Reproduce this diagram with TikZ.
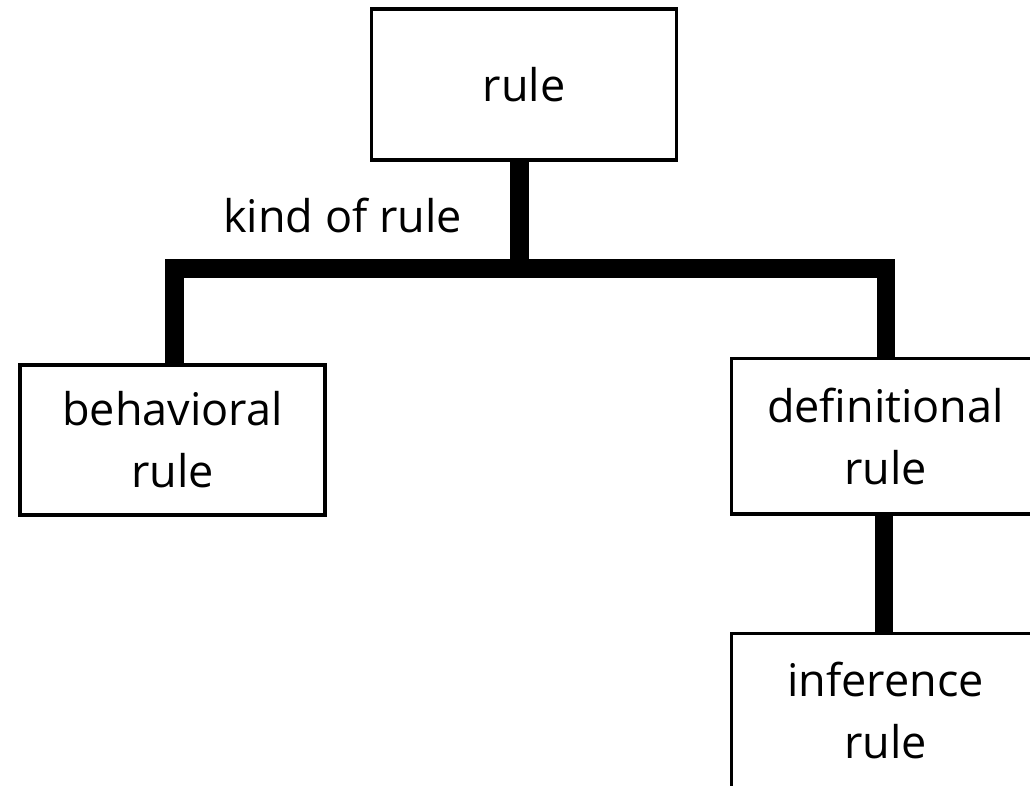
\documentclass[tikz,border=0pt]{standalone}
\usepackage{fontspec}
\setmainfont{Open Sans}
\begin{document}
\begin{tikzpicture}[x=1pt,y=-1pt,
  box/.style={draw=black, line width=3.5pt, rectangle, inner sep=0pt,
    minimum width=305pt, minimum height=151pt, align=center,
    font=\fontsize{45}{62}\selectfont},
  openbox/.style={box, draw=none},
  edge/.style={draw=black, line width=3.5pt, line join=miter},
  conn/.style={draw=black, line width=18.5pt, line join=miter, line cap=butt},
  lbl/.style={inner sep=0pt, font=\fontsize{45}{62}\selectfont}]
\useasboundingbox (0,0) rectangle (1030,785);
\node[box] (rule) at (524,84.5) {rule};
\node[box, minimum height=150pt] (beh) at (172.5,440) {behavioral\\rule};
\node[openbox, minimum height=152pt] (def) at (885.5,436) {definitional\\rule};
\node[openbox, minimum height=150pt] (inf) at (885.5,710) {inference\\rule};
\draw[edge] ([xshift=60pt]def.north east) -- (def.north west)
  -- (def.south west) -- ([xshift=60pt]def.south east);
\draw[edge] ([xshift=60pt]inf.north east) -- (inf.north west)
  -- ([yshift=-30pt]inf.south west);
\coordinate (jm) at (519.5,268.5);
\coordinate (jl) at (174.5,268.5);
\coordinate (jr) at (886,268.5);
\draw[conn] (rule.south -| jm) -- (jm);
\draw[conn] (beh.north -| jl) -- (jl) -- (jr) -- (def.north -| jr);
\draw[conn] (def.south -| 884,0) -- (inf.north -| 884,0);
\node[lbl, anchor=base west] (kind) at (223,232) {kind of rule};
\end{tikzpicture}
\end{document}
